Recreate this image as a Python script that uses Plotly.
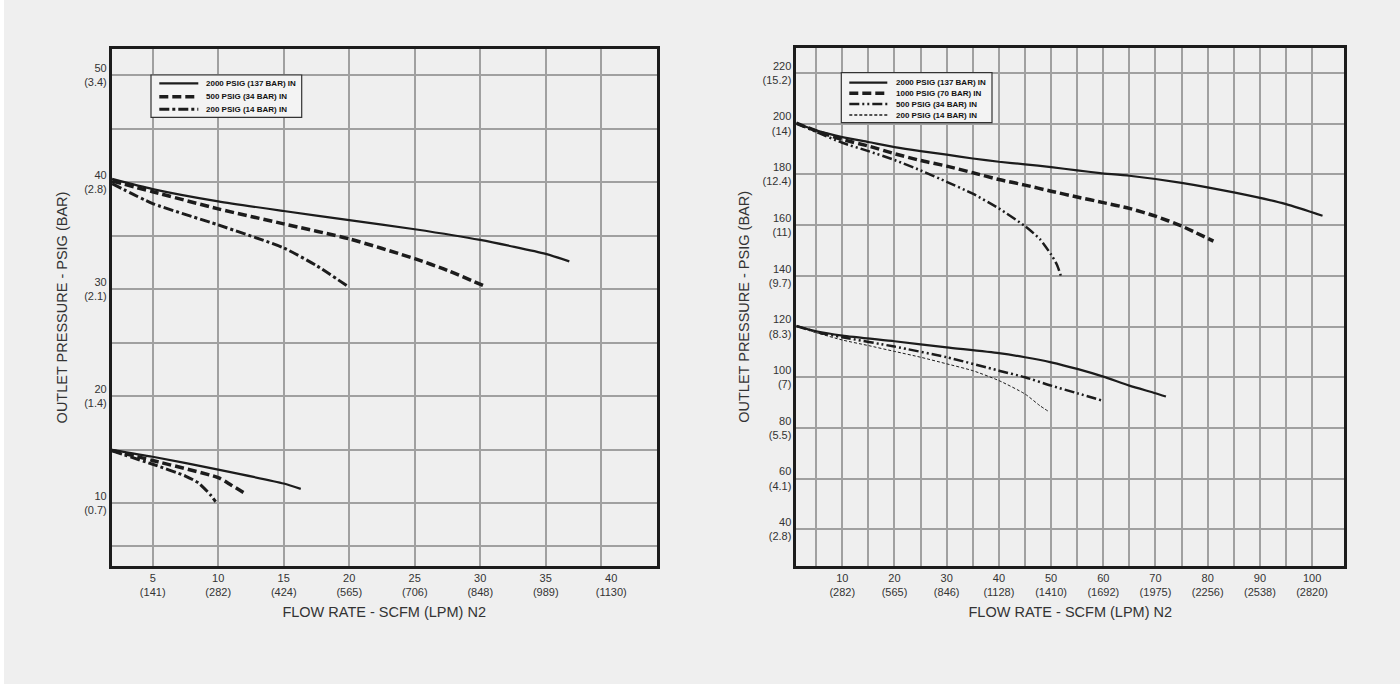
import plotly.graph_objects as go

# ---------------- LEFT CHART DATA (SCFM vs PSIG) ----------------
left_names = ["2000 PSIG (137 BAR) IN", "500 PSIG (34 BAR) IN", "200 PSIG (14 BAR) IN"]

# upper set (~40 psig setting)
l_up_2000_x = [1.9, 5, 10, 15, 20, 25, 30, 35, 36.8]
l_up_2000_y = [40.3, 39.35, 38.2, 37.3, 36.45, 35.6, 34.6, 33.3, 32.6]
l_up_500_x = [1.9, 5, 10, 15, 20, 25, 27.5, 30.3]
l_up_500_y = [40.1, 39.1, 37.5, 36.1, 34.7, 32.85, 31.75, 30.3]
l_up_200_x = [1.9, 5, 10, 15, 17.5, 19.85]
l_up_200_y = [39.85, 38.0, 36.0, 33.85, 32.2, 30.3]

# lower set (~15 psig setting)
l_lo_2000_x = [1.9, 5, 10, 15, 16.3]
l_lo_2000_y = [15.0, 14.35, 13.15, 11.85, 11.35]
l_lo_500_x = [1.9, 5, 10, 11, 12.1]
l_lo_500_y = [14.95, 14.0, 12.4, 11.7, 10.9]
l_lo_200_x = [1.9, 5, 7.5, 8.5, 9.4, 9.8]
l_lo_200_y = [14.9, 13.65, 12.55, 11.9, 10.8, 10.15]

left_xtick_vals = [5, 10, 15, 20, 25, 30, 35, 40]
left_xtick_text = ["5<br>(141)", "10<br>(282)", "15<br>(424)", "20<br>(565)", "25<br>(706)",
                   "30<br>(848)", "35<br>(989)", "40<br>(1130)"]
left_xgrid_vals = [5, 10, 15, 20, 25, 30, 35, 39.25]
left_ytick_vals = [10, 20, 30, 40, 50]
left_ytick_text = ["10<br>(0.7)", "20<br>(1.4)", "30<br>(2.1)", "40<br>(2.8)", "50<br>(3.4)"]
left_ygrid_vals = [6, 10, 15, 20, 25, 30, 35, 40, 45, 50]

# ---------------- RIGHT CHART DATA ----------------
right_names = ["2000 PSIG (137 BAR) IN", "1000 PSIG (70 BAR) IN", "500 PSIG (34 BAR) IN", "200 PSIG (14 BAR) IN"]

r_up_2000_x = [1.2, 5, 10, 15, 20, 25, 30, 35, 40, 45, 50, 55, 59.4, 65, 75, 85, 95, 102]
r_up_2000_y = [200.2, 197.4, 194.75, 192.8, 190.8, 189.2, 187.8, 186.3, 185.0, 184.0, 182.9, 181.6,
               180.55, 179.5, 176.7, 172.9, 168.3, 163.7]
r_up_1000_x = [1.2, 5, 10, 15, 20, 25, 30, 35, 40, 45, 50, 55, 60, 65, 70, 75, 81.1]
r_up_1000_y = [200.2, 197.2, 193.8, 191.2, 188.2, 185.5, 183.3, 180.7, 178.0, 175.8, 173.4, 171.1,
               168.9, 166.6, 163.55, 159.65, 153.7]
r_up_500_x = [1.2, 5, 10, 15, 20, 25, 30, 35, 40, 45, 47.9, 50, 51.1, 52.0]
r_up_500_y = [200.2, 196.8, 192.5, 189.2, 185.7, 181.6, 177.1, 172.4, 166.6, 159.6, 154.4, 148.4, 144.5, 139.2]

r_lo_2000_x = [1.2, 5, 10, 20, 30, 40, 45, 50, 55, 60, 65, 70, 72]
r_lo_2000_y = [120.2, 118.15, 116.45, 114.2, 111.8, 109.5, 107.9, 105.9, 103.3, 100.25, 96.7, 93.7, 92.4]
r_lo_500_x = [1.2, 5, 10, 20, 30, 40, 45, 50, 55, 59.8]
r_lo_500_y = [120.2, 117.9, 115.8, 112.1, 107.9, 102.6, 100.0, 96.7, 93.7, 90.8]
r_lo_200_x = [1.2, 5, 10, 15, 20, 25, 30, 35, 40, 45, 47.85, 49.6]
r_lo_200_y = [120.2, 117.6, 114.7, 112.5, 110.2, 107.9, 105.3, 102.6, 98.7, 93.4, 88.8, 86.4]

right_xtick_vals = [10, 20, 30, 40, 50, 60, 70, 80, 90, 100]
right_xtick_text = ["10<br>(282)", "20<br>(565)", "30<br>(846)", "40<br>(1128)", "50<br>(1410)",
                    "60<br>(1692)", "70<br>(1975)", "80<br>(2256)", "90<br>(2538)", "100<br>(2820)"]
right_xgrid_vals = [5, 10, 15, 20, 25, 30, 35, 40, 45, 50, 55, 60, 65, 70, 75, 80, 85, 90, 95, 100]
right_ytick_vals = [40, 60, 80, 100, 120, 140, 160, 180, 200, 220]
right_ytick_text = ["40<br>(2.8)", "60<br>(4.1)", "80<br>(5.5)", "100<br>(7)", "120<br>(8.3)",
                    "140<br>(9.7)", "160<br>(11)", "180<br>(12.4)", "200<br>(14)", "220<br>(15.2)"]

# ---------------- STYLES ----------------
INK = "#1c1c1c"
GRID = "#a0a0a0"
BG = "#efefef"
TXT = "#333333"
FONT = "Liberation Sans, Arial, sans-serif"

st_solid = dict(dash="solid", width=2.2)
st_dash_thick = dict(dash="9px,4px", width=3.5)
st_dashdot = dict(dash="10px,3px,3px,3px", width=3)
st_dashdotdot = dict(dash="10px,3px,2px,3px,2px,3px", width=2.5)
st_short = dict(dash="3px,2px", width=1)

fig = go.Figure()


def add(x, y, name, style, xa, ya):
    fig.add_trace(go.Scatter(
        x=x, y=y, mode="lines", name=name, showlegend=False,
        xaxis=xa, yaxis=ya, hoverinfo="x+y+name",
        line=dict(color=INK, width=style["width"], dash=style["dash"], shape="spline", smoothing=0.6),
    ))


# left
add(l_up_2000_x, l_up_2000_y, left_names[0], st_solid, "x", "y")
add(l_up_500_x, l_up_500_y, left_names[1], st_dash_thick, "x", "y")
add(l_up_200_x, l_up_200_y, left_names[2], st_dashdot, "x", "y")
add(l_lo_2000_x, l_lo_2000_y, left_names[0], st_solid, "x", "y")
add(l_lo_500_x, l_lo_500_y, left_names[1], st_dash_thick, "x", "y")
add(l_lo_200_x, l_lo_200_y, left_names[2], st_dashdot, "x", "y")

# right
add(r_up_2000_x, r_up_2000_y, right_names[0], st_solid, "x2", "y2")
add(r_up_1000_x, r_up_1000_y, right_names[1], st_dash_thick, "x2", "y2")
add(r_up_500_x, r_up_500_y, right_names[2], st_dashdotdot, "x2", "y2")
add(r_lo_2000_x, r_lo_2000_y, right_names[0], st_solid, "x2", "y2")
add(r_lo_500_x, r_lo_500_y, right_names[2], st_dashdotdot, "x2", "y2")
add(r_lo_200_x, r_lo_200_y, right_names[3], st_short, "x2", "y2")

W, H = 1400, 684


def PX(v):
    return v / W


def PY(v):
    return 1 - v / H


tickfont = dict(family=FONT, size=11, color=TXT)
titlefont = dict(family=FONT, size=14.5, color=TXT)

frame = dict(showline=True, mirror=True, linecolor=INK, linewidth=2.5, ticks="",
             zeroline=False, showgrid=False, tickfont=tickfont, fixedrange=True)


def grid(vals):
    return dict(tickmode="array", tickvals=vals, showgrid=True, gridcolor=GRID, gridwidth=1.6, ticks="")


# ---- legend boxes (drawn as layout decorations: frame, key lines, real text) ----
shapes = [dict(type="rect", xref="paper", yref="paper", x0=0, x1=PX(4), y0=0, y1=1,
               fillcolor="#ffffff", line=dict(width=0), layer="below")]
annotations = []


def legend_box(x0, y0, x1, y1, rows_y, key_x0, key_x1, text_x, names, styles):
    shapes.append(dict(type="rect", xref="paper", yref="paper", x0=PX(x0), x1=PX(x1),
                       y0=PY(y1), y1=PY(y0), fillcolor="#f3f3f3",
                       line=dict(color="#333333", width=1.2), layer="above"))
    for ry, nm, stl in zip(rows_y, names, styles):
        shapes.append(dict(type="line", xref="paper", yref="paper", x0=PX(key_x0), x1=PX(key_x1),
                           y0=PY(ry), y1=PY(ry), layer="above",
                           line=dict(color=INK, width=stl["width"], dash=stl["dash"])))
        annotations.append(dict(xref="paper", yref="paper", x=PX(text_x), y=PY(ry), text="<b>%s</b>" % nm,
                                showarrow=False, xanchor="left", yanchor="middle",
                                font=dict(family=FONT, size=8, color="#111111")))


legend_box(151, 75, 301.7, 117.3, [83.3, 96.7, 109.3], 159.3, 198.3, 203.5,
           left_names, [st_solid, st_dash_thick, st_dashdot])
legend_box(841.3, 72.7, 992, 122.7, [82.7, 93.3, 104, 115], 849.3, 887.3, 893.5,
           right_names, [st_solid, st_dash_thick, st_dashdotdot, dict(dash="3px,2px", width=1.4)])

fig.update_layout(
    width=W, height=H,
    margin=dict(l=0, r=0, t=0, b=0),
    paper_bgcolor=BG, plot_bgcolor=BG,
    showlegend=False,
    xaxis=dict(frame, domain=[PX(111.7), PX(656.7)], range=[1.87, 43.47], anchor="y",
               tickmode="array", tickvals=left_xtick_vals, ticktext=left_xtick_text,
               minor=grid(left_xgrid_vals),
               title=dict(text="FLOW RATE - SCFM (LPM) N2", font=titlefont, standoff=10)),
    yaxis=dict(frame, domain=[PY(566), PY(49)], range=[4.15, 52.43], anchor="x",
               tickmode="array", tickvals=left_ytick_vals, ticktext=left_ytick_text,
               minor=grid(left_ygrid_vals),
               title=dict(text="OUTLET PRESSURE - PSIG (BAR)", font=titlefont, standoff=14)),
    xaxis2=dict(frame, domain=[PX(796.3), PX(1344.3)], range=[1.19, 106.17], anchor="y2",
                tickmode="array", tickvals=right_xtick_vals, ticktext=right_xtick_text,
                minor=grid(right_xgrid_vals),
                title=dict(text="FLOW RATE - SCFM (LPM) N2", font=titlefont, standoff=10)),
    yaxis2=dict(frame, domain=[PY(566), PY(47.7)], range=[25.55, 230], anchor="x2",
                tickmode="array", tickvals=right_ytick_vals, ticktext=right_ytick_text,
                showgrid=True, gridcolor=GRID, gridwidth=1.6,
                title=dict(text="OUTLET PRESSURE - PSIG (BAR)", font=titlefont, standoff=10)),
    shapes=shapes,
    annotations=annotations,
)

fig.write_html("out.html", include_plotlyjs=True, config={"displayModeBar": False},
               post_script="document.body.style.margin='0px';document.body.style.overflow='hidden';")
